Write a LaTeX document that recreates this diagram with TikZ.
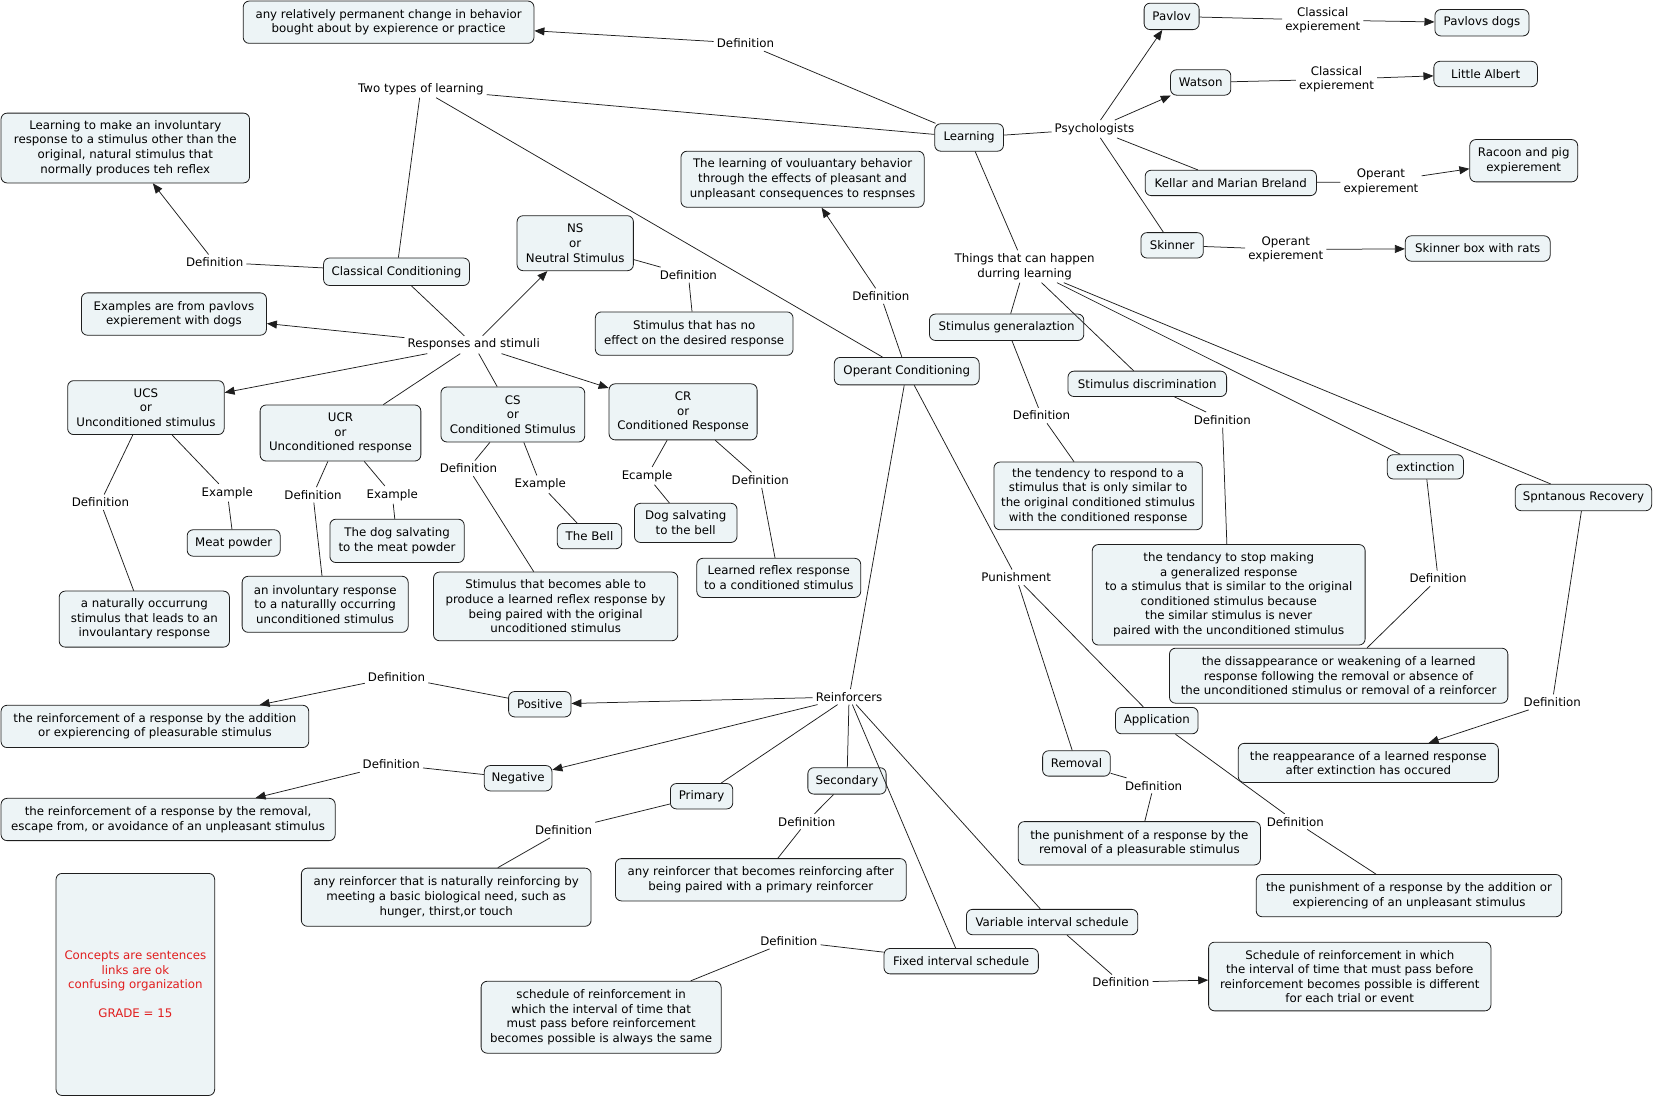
\documentclass[tikz,border=0pt]{standalone}
\usepackage{fontspec}
\setmainfont{DejaVu Sans}
\usetikzlibrary{arrows.meta}
\definecolor{cmfill}{RGB}{237,244,246}
\definecolor{cmline}{RGB}{30,30,30}
\definecolor{cmred}{RGB}{225,30,30}
\tikzset{
  box/.style={draw=cmline, fill=cmfill, rounded corners=6pt, line width=0.8pt, align=center, inner sep=0pt},
  lbl/.style={inner sep=3pt, align=center},
  conn/.style={draw=cmline, line width=0.75pt},
  arr/.style={conn, -{Triangle[length=10pt,width=8pt]}}
}
\newcommand\cb[6]{\node[box, minimum width={1.0574pt*(#4-#2)}, minimum height={1.0574pt*(#5-#3)}] (#1) at ({(#2+#4)/2},{(#3+#5)/2}) {#6};}
\newcommand\lb[4]{\node[lbl] (#1) at (#2,#3) {#4};}
\begin{document}
\begin{tikzpicture}[x=1.0574pt, y=-1.0574pt, font=\fontsize{11.8pt}{14.6pt}\selectfont]
\useasboundingbox (0,0) rectangle (1568,1039.3);
% concepts
\cb{bdefL}{230}{1}{505}{41}{any relatively permanent change in behavior\\bought about by expierence or practice}
\cb{bdefCC}{1}{107}{236}{173}{Learning to make an involuntary\\response to a stimulus other than the\\original, natural stimulus that\\normally produces teh reflex}
\cb{bdefOC}{644}{143}{874}{196}{The learning of vouluantary behavior\\through the effects of pleasant and\\unpleasant consequences to respnses}
\cb{pavlov}{1082}{3}{1134}{28}{Pavlov}
\cb{pdogs}{1357}{9}{1446}{34}{Pavlovs dogs}
\cb{watson}{1107}{66}{1164}{90}{Watson}
\cb{albert}{1356}{58}{1454}{82}{Little Albert}
\cb{learning}{884}{117}{949}{143}{Learning}
\cb{breland}{1083}{161}{1245}{185}{Kellar and Marian Breland}
\cb{racoon}{1390}{132}{1492}{172}{Racoon and pig\\expierement}
\cb{skinner}{1079}{220}{1138}{244}{Skinner}
\cb{sbox}{1329}{223}{1466}{247}{Skinner box with rats}
\cb{cc}{306}{244}{444}{270}{Classical Conditioning}
\cb{ns}{489}{204}{599}{256}{NS\\or\\Neutral Stimulus}
\cb{bdefNS}{563}{295}{750}{336}{Stimulus that has no\\effect on the desired response}
\cb{bex}{77}{277}{252}{317}{Examples are from pavlovs\\expierement with dogs}
\cb{oc}{789}{338}{926}{364}{Operant Conditioning}
\cb{sg}{879}{297}{1025}{322}{Stimulus generalaztion}
\cb{sd}{1010}{351}{1160}{375}{Stimulus discrimination}
\cb{ucs}{64}{360}{212}{411}{UCS\\or\\Unconditioned stimulus}
\cb{ucr}{246}{383}{398}{436}{UCR\\or\\Unconditioned response}
\cb{cs}{417}{366}{553}{418}{CS\\or\\Conditioned Stimulus}
\cb{cr}{576}{363}{716}{416}{CR\\or\\Conditioned Response}
\cb{bdefSG}{940}{437}{1137}{501}{the tendency to respond to a\\stimulus that is only similar to\\the original conditioned stimulus\\with the conditioned response}
\cb{ext}{1312}{430}{1384}{453}{extinction}
\cb{spr}{1433}{458}{1562}{483}{Spntanous Recovery}
\cb{meat}{177}{501}{265}{526}{Meat powder}
\cb{dogmeat}{312}{491}{439}{532}{The dog salvating\\to the meat powder}
\cb{bell}{527}{495}{588}{519}{The Bell}
\cb{dogbell}{600}{476}{697}{513}{Dog salvating\\to the bell}
\cb{bdefCR}{659}{528}{814}{565}{Learned reflex response\\to a conditioned stimulus}
\cb{bdefUCS}{56}{559}{217}{612}{a naturally occurrung\\stimulus that leads to an\\invoulantary response}
\cb{bdefUCR}{229}{545}{386}{598}{an involuntary response\\to a naturallly occurring\\unconditioned stimulus}
\cb{bdefCS}{410}{541}{641}{606}{Stimulus that becomes able to\\produce a learned reflex response by\\being paired with the original\\uncoditioned stimulus}
\cb{bdefSD}{1033}{515}{1291}{610}{the tendancy to stop making\\a generalized response\\to a stimulus that is similar to the original\\conditioned stimulus because\\the similar stimulus is never\\paired with the unconditioned stimulus}
\cb{bdefEx}{1106}{613}{1426}{665}{the dissappearance or weakening of a learned\\response following the removal or absence of\\the unconditioned stimulus or removal of a reinforcer}
\cb{pos}{481}{654}{540}{678}{Positive}
\cb{bdefPos}{1}{667}{292}{707}{the reinforcement of a response by the addition\\or expierencing of pleasurable stimulus}
\cb{app}{1055}{669}{1133}{694}{Application}
\cb{bdefSR}{1171}{703}{1417}{740}{the reappearance of a learned response\\after extinction has occured}
\cb{rem}{986}{710}{1050}{734}{Removal}
\cb{neg}{458}{724}{522}{748}{Negative}
\cb{bdefNeg}{1}{755}{317}{795}{the reinforcement of a response by the removal,\\escape from, or avoidance of an unpleasant stimulus}
\cb{prim}{634}{741}{693}{765}{Primary}
\cb{sec}{764}{726}{838}{751}{Secondary}
\cb{bdefRem}{963}{777}{1192}{818}{the punishment of a response by the\\removal of a pleasurable stimulus}
\cb{bdefSec}{582}{812}{857}{852}{any reinforcer that becomes reinforcing after\\being paired with a primary reinforcer}
\cb{bdefApp}{1188}{827}{1477}{867}{the punishment of a response by the addition or\\expierencing of an unpleasant stimulus}
\cb{bdefPrim}{285}{821}{559}{876}{any reinforcer that is naturally reinforcing by\\meeting a basic biological need, such as\\hunger, thirst,or touch}
\cb{vis}{914}{860}{1076}{884}{Variable interval schedule}
\cb{fis}{836}{897}{982}{921}{Fixed interval schedule}
\cb{bdefVIS}{1143}{891}{1410}{956}{Schedule of reinforcement in which\\the interval of time that must pass before\\reinforcement becomes possible is different\\for each trial or event}
\cb{bdefFIS}{455}{928}{682}{996}{schedule of reinforcement in\\which the interval of time that\\must pass before reinforcement\\becomes possible is always the same}
\cb{grade}{53}{826}{203}{1036}{\color{cmred}Concepts are sentences\\\color{cmred}links are ok\\\color{cmred}confusing organization\\[14.6pt]\color{cmred}GRADE = 15}
% link labels
\lb{lDefL}{705}{41}{Definition}
\lb{lTwo}{398}{84}{Two types of learning}
\lb{lPsy}{1035}{122}{Psychologists}
\lb{lPav}{1251}{19}{Classical\\expierement}
\lb{lWat}{1264}{75}{Classical\\expierement}
\lb{lBre}{1306}{172}{Operant\\expierement}
\lb{lSki}{1216}{236}{Operant\\expierement}
\lb{lThings}{969}{252}{Things that can happen\\durring learning}
\lb{lDefCC}{203}{248}{Definition}
\lb{lDefNS}{651}{260}{Definition}
\lb{lDefOC}{833}{280}{Definition}
\lb{lRS}{448}{326}{Responses and stimuli}
\lb{lDefSG}{985}{393}{Definition}
\lb{lDefSD}{1156}{397}{Definition}
\lb{lDefUCS}{95}{475}{Definition}
\lb{lExUCS}{215}{466}{Example}
\lb{lDefUCR}{296}{468}{Definition}
\lb{lExUCR}{371}{468}{Example}
\lb{lDefCS}{443}{443}{Definition}
\lb{lExCS}{511}{458}{Example}
\lb{lExCR}{612}{450}{Ecample}
\lb{lDefCR}{719}{454}{Definition}
\lb{lPun}{961}{546}{Punishment}
\lb{lDefEx}{1360}{547}{Definition}
\lb{lDefPos}{375}{640}{Definition}
\lb{lRein}{803}{659}{Reinforcers}
\lb{lDefSR}{1468}{664}{Definition}
\lb{lDefNeg}{370}{723}{Definition}
\lb{lDefRem}{1091}{743}{Definition}
\lb{lDefPrim}{533}{785}{Definition}
\lb{lDefSec}{763}{777}{Definition}
\lb{lDefApp}{1225}{777}{Definition}
\lb{lDefFIS}{746}{890}{Definition}
\lb{lDefVIS}{1060}{929}{Definition}
% connectors
\draw[conn] (learning) -- (lDefL);
\draw[arr] (lDefL) -- (bdefL);
\draw[conn] (learning) -- (lTwo);
\draw[conn] (lTwo) -- (cc);
\draw[conn] (lTwo) -- (oc);
\draw[conn] (learning) -- (lPsy);
\draw[arr] (lPsy) -- (pavlov);
\draw[arr] (lPsy) -- (watson);
\draw[conn] (lPsy) -- (breland);
\draw[conn] (lPsy) -- (skinner);
\draw[conn] (pavlov) -- (lPav);
\draw[arr] (lPav) -- (pdogs);
\draw[conn] (watson) -- (lWat);
\draw[arr] (lWat) -- (albert);
\draw[conn] (breland) -- (lBre);
\draw[arr] (lBre) -- (racoon);
\draw[conn] (skinner) -- (lSki);
\draw[arr] (lSki) -- (sbox);
\draw[conn] (learning) -- (lThings);
\draw[conn] (lThings) -- (sg);
\draw[conn] (lThings) -- (sd);
\draw[conn] (lThings) -- (ext);
\draw[conn] (lThings) -- (spr);
\draw[conn] (cc) -- (lDefCC);
\draw[arr] (lDefCC) -- (bdefCC);
\draw[conn] (cc) -- (lRS);
\draw[arr] (lRS) -- (ns);
\draw[arr] (lRS) -- (bex);
\draw[arr] (lRS) -- (ucs);
\draw[conn] (lRS) -- (ucr);
\draw[conn] (lRS) -- (cs);
\draw[arr] (lRS) -- (cr);
\draw[conn] (ns) -- (lDefNS);
\draw[conn] (lDefNS) -- (bdefNS);
\draw[conn] (oc) -- (lDefOC);
\draw[arr] (lDefOC) -- (bdefOC);
\draw[conn] (oc) -- (lRein);
\draw[conn] (oc) -- (lPun);
\draw[conn] (sg) -- (lDefSG);
\draw[conn] (lDefSG) -- (bdefSG);
\draw[conn] (sd) -- (lDefSD);
\draw[conn] (lDefSD) -- (bdefSD);
\draw[conn] (ucs) -- (lDefUCS);
\draw[conn] (lDefUCS) -- (bdefUCS);
\draw[conn] (ucs) -- (lExUCS);
\draw[conn] (lExUCS) -- (meat);
\draw[conn] (ucr) -- (lDefUCR);
\draw[conn] (lDefUCR) -- (bdefUCR);
\draw[conn] (ucr) -- (lExUCR);
\draw[conn] (lExUCR) -- (dogmeat);
\draw[conn] (cs) -- (lDefCS);
\draw[conn] (lDefCS) -- (bdefCS);
\draw[conn] (cs) -- (lExCS);
\draw[conn] (lExCS) -- (bell);
\draw[conn] (cr) -- (lExCR);
\draw[conn] (lExCR) -- (dogbell);
\draw[conn] (cr) -- (lDefCR);
\draw[conn] (lDefCR) -- (bdefCR);
\draw[conn] (lPun) -- (rem);
\draw[conn] (lPun) -- (app);
\draw[conn] (ext) -- (lDefEx);
\draw[conn] (lDefEx) -- (bdefEx);
\draw[conn] (spr) -- (lDefSR);
\draw[arr] (lDefSR) -- (bdefSR);
\draw[arr] (lRein) -- (pos);
\draw[arr] (lRein) -- (neg);
\draw[conn] (lRein) -- (prim);
\draw[conn] (lRein) -- (sec);
\draw[conn] (lRein) -- (fis);
\draw[conn] (lRein) -- (vis);
\draw[conn] (pos) -- (lDefPos);
\draw[arr] (lDefPos) -- (bdefPos);
\draw[conn] (neg) -- (lDefNeg);
\draw[arr] (lDefNeg) -- (bdefNeg);
\draw[conn] (rem) -- (lDefRem);
\draw[conn] (lDefRem) -- (bdefRem);
\draw[conn] (prim) -- (lDefPrim);
\draw[conn] (lDefPrim) -- (bdefPrim);
\draw[conn] (sec) -- (lDefSec);
\draw[conn] (lDefSec) -- (bdefSec);
\draw[conn] (app) -- (lDefApp);
\draw[conn] (lDefApp) -- (bdefApp);
\draw[conn] (fis) -- (lDefFIS);
\draw[conn] (lDefFIS) -- (bdefFIS);
\draw[conn] (vis) -- (lDefVIS);
\draw[arr] (lDefVIS) -- (bdefVIS);
\end{tikzpicture}
\end{document}
